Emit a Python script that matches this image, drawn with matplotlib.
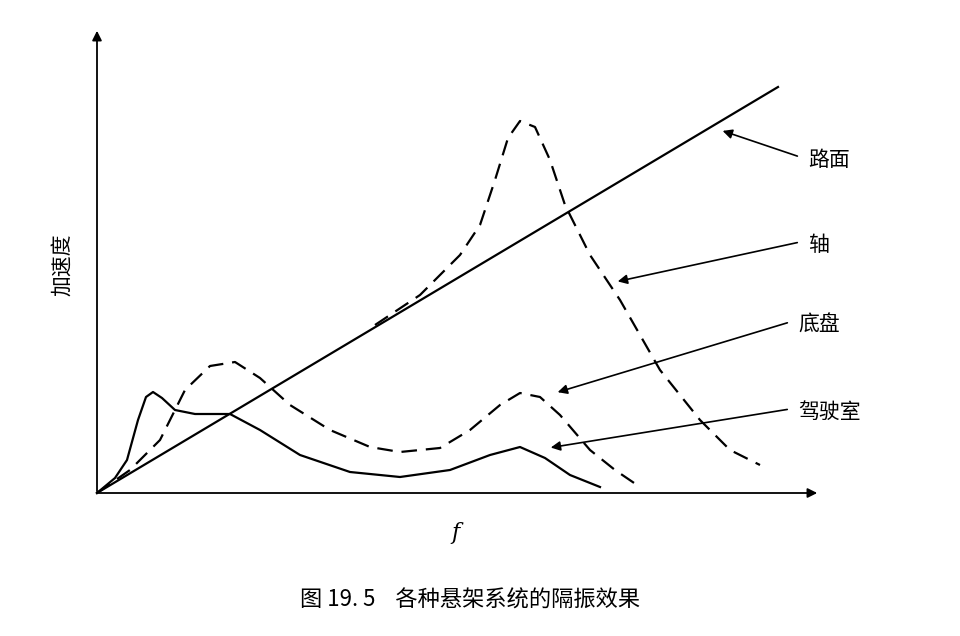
import matplotlib
matplotlib.use("Agg")
import matplotlib.pyplot as plt

plt.rcParams['font.family'] = ['Noto Sans CJK SC', 'DejaVu Sans']

# curves in figure-pixel coordinates (x right, y down)
road_x = [97, 778]
road_y = [493, 87]
axle_x = [375, 420, 460, 480, 495, 508, 520, 535, 550, 565, 590, 620, 660, 700, 730, 760]
axle_y = [325, 295, 255, 225, 180, 138, 121, 127, 160, 205, 255, 300, 370, 420, 450, 465]
chassis_x = [97, 130, 160, 185, 210, 235, 260, 290, 330, 370, 400, 440, 470, 500, 520, 540, 560, 590, 615, 640]
chassis_y = [493, 470, 440, 390, 366, 362, 378, 405, 430, 447, 452, 448, 430, 405, 393, 397, 415, 450, 470, 487]
cabin_x = [97, 115, 127, 138, 146, 153, 162, 175, 195, 230, 260, 300, 350, 400, 450, 490, 520, 545, 570, 600]
cabin_y = [493, 478, 460, 420, 397, 392, 398, 410, 414, 414, 430, 455, 472, 477, 470, 455, 447, 458, 475, 487]

labels = ['路面', '轴', '底盘', '驾驶室']
label_pos = [(808, 160), (808, 245), (798, 325), (798, 412)]
arrow_tips = [(720, 130), (615, 282), (555, 393), (548, 448)]

fig = plt.figure(figsize=(9.6, 6.36), dpi=100)
ax = fig.add_axes([0, 0, 1, 1])
ax.set_xlim(0, 960)
ax.set_ylim(636, 0)
ax.axis('off')

# axes arrows
ax.annotate('', xy=(97, 28), xytext=(97, 494),
            arrowprops=dict(arrowstyle='-|>', color='black', lw=1.3, mutation_scale=14))
ax.annotate('', xy=(820, 493), xytext=(96, 493),
            arrowprops=dict(arrowstyle='-|>', color='black', lw=1.3, mutation_scale=14))

ax.plot(road_x, road_y, color='black', lw=1.6)
ax.plot(axle_x, axle_y, color='black', lw=1.6, ls=(0, (7, 4)))
ax.plot(chassis_x, chassis_y, color='black', lw=1.6, ls=(0, (7, 4)))
ax.plot(cabin_x, cabin_y, color='black', lw=1.6)

for lab, (tx, ty), (ax_, ay) in zip(labels, label_pos, arrow_tips):
    ax.annotate('', xy=(ax_, ay), xytext=(tx - 8, ty - 3),
                arrowprops=dict(arrowstyle='-|>', color='black', lw=1.2, mutation_scale=14))
    ax.text(tx, ty, lab, fontsize=15, ha='left', va='center')

ax.text(62, 265, '加速度', fontsize=15, rotation=90, ha='center', va='center')
ax.text(455, 533, 'f', fontsize=16, style='italic', family='DejaVu Serif', ha='center', va='center')
ax.text(470, 600, '图 19. 5    各种悬架系统的隔振效果', fontsize=16, ha='center', va='center')

fig.savefig('out.png', dpi=100)
